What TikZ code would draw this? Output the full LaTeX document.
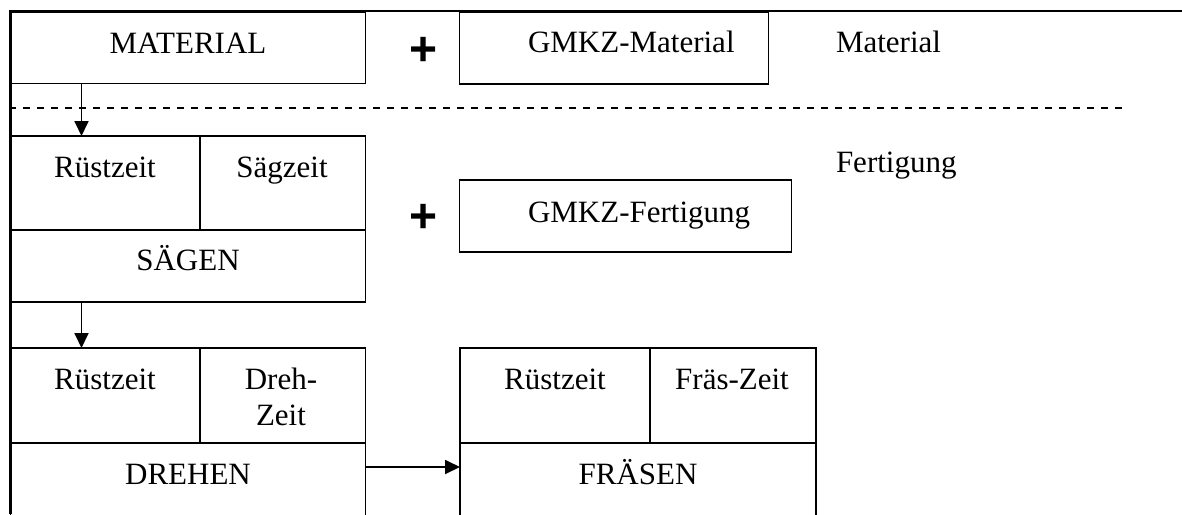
\documentclass[tikz,border=0pt]{standalone}
\usepackage{fontspec}
\setmainfont{Liberation Serif}
\newfontfamily\plusfont{Liberation Sans}
\usetikzlibrary{arrows.meta,calc}

\tikzset{
  box/.style={draw, line width=1.6pt, inner sep=0pt, outer sep=0pt},
  txt/.style={inner sep=0pt, outer sep=0pt, anchor=base,
              font=\fontsize{31}{37}\selectfont},
  plussign/.style={inner sep=0pt, outer sep=0pt, anchor=base,
              font=\plusfont\bfseries\fontsize{48}{50}\selectfont},
  arr/.style={line width=1.8pt, -{Triangle[length=15pt,width=14pt]}},
  frame/.style={line width=2.2pt},
  divider/.style={line width=1.5pt, dash pattern=on 7pt off 7pt}
}

\begin{document}
\begin{tikzpicture}[x=1pt, y=-1pt]
\useasboundingbox (0,0) rectangle (1182,514);
\clip (0,0) rectangle (1182,514);

% outer frame: top rule and left rule
\draw[frame] (9,11) -- (1182,11);
\draw[frame] (10.5,11) -- (10.5,514);

% separator between material and manufacturing
\draw[divider] (9,108) -- (1123,108);

% material section
\node[box, minimum width=355pt, minimum height=71pt]   (mat) at (188,48) {};
\node[box, minimum width=309pt, minimum height=71.5pt] (gm)  at (614,48.25) {};
\node[txt] (tmat) at (188,53) {MATERIAL};
\node[txt, anchor=base west] (tgm) at (528,52) {GMKZ-Material};
\node[plussign] (p1) at (424,65) {+};
\node[txt, anchor=base west] (lmat) at (836,52) {Material};

% manufacturing section label and overhead box
\node[txt, anchor=base west] (lfert) at (836,172) {Fertigung};
\node[box, minimum width=332pt, minimum height=72pt] (gf) at (625.5,216) {};
\node[txt, anchor=base west] (tgf) at (528,222) {GMKZ-Fertigung};
\node[plussign] (p2) at (424,232) {+};

% sawing
\node[box, minimum width=189.5pt, minimum height=94pt] (sr) at (105.25,183) {};
\node[box, minimum width=165.5pt, minimum height=94pt] (ss) at (282.75,183) {};
\node[box, minimum width=355pt,   minimum height=72pt] (sl) at (188,266) {};
\node[txt] (tsr) at (105,177) {Rüstzeit};
\node[txt] (tss) at (282,177) {Sägzeit};
\node[txt] (tsl) at (188,270) {SÄGEN};

% turning
\node[box, minimum width=189.5pt, minimum height=95pt]  (dr) at (105.25,395.5) {};
\node[box, minimum width=165.5pt, minimum height=95pt]  (dz) at (282.75,395.5) {};
\node[box, minimum width=355pt,   minimum height=100pt] (dl) at (188,493) {};
\node[txt] (tdr)  at (105,389) {Rüstzeit};
\node[txt] (tdz1) at (281,389) {Dreh-};
\node[txt] (tdz2) at (281,425) {Zeit};
\node[txt] (tdl)  at (188,484) {DREHEN};

% milling
\node[box, minimum width=190pt, minimum height=95pt]  (fr) at (555,395.5) {};
\node[box, minimum width=166pt, minimum height=95pt]  (fz) at (733,395.5) {};
\node[box, minimum width=356pt, minimum height=100pt] (fl) at (638,493) {};
\node[txt] (tfr) at (555,389) {Rüstzeit};
\node[txt] (tfz) at (732,389) {Fräs-Zeit};
\node[txt] (tfl) at (638,484) {FRÄSEN};

% flow arrows
\coordinate (a1) at ($(mat.south west)!0.2!(mat.south east)$);
\draw[arr] (a1) -- (a1 |- sr.north);
\coordinate (a2) at ($(sl.south west)!0.2!(sl.south east)$);
\draw[arr] (a2) -- (a2 |- dr.north);
\coordinate (a3) at ($(dl.north east)+(0,24)$);
\draw[arr] (a3) -- (a3 -| fl.west);
\end{tikzpicture}
\end{document}
